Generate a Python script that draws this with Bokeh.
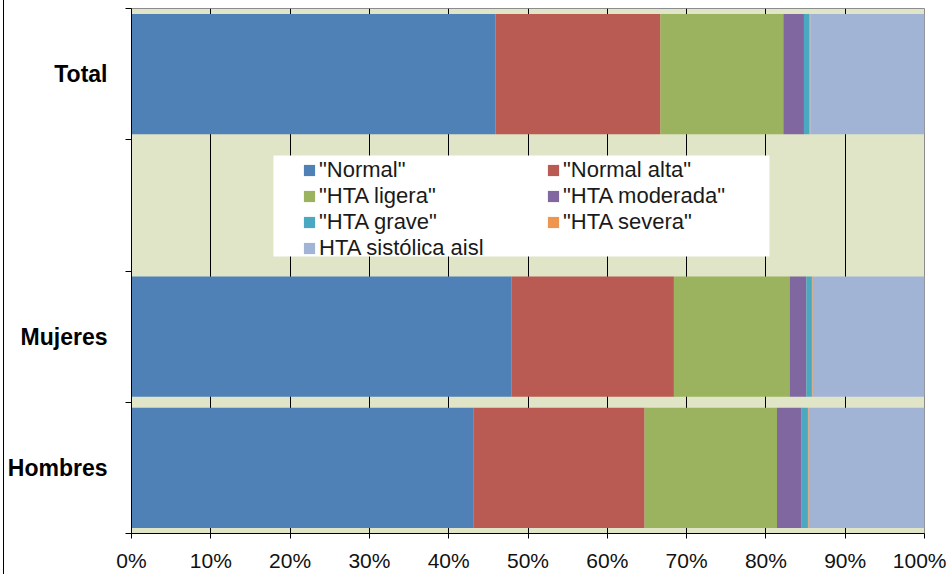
from bokeh.plotting import figure
from bokeh.models import (FixedTicker, Legend, LegendItem, ColumnDataSource,
                          Range1d, BoxAnnotation)
from bokeh.embed import file_html
from bokeh.resources import INLINE

# ---- data (bottom to top) ----
categories = ["Hombres", "Mujeres", "", "Total"]
series_names = ['"Normal"', '"Normal alta"', '"HTA ligera"', '"HTA moderada"',
                '"HTA grave"', '"HTA severa"', 'HTA sistólica aisl']
normal = [43.1, 47.9, 0.0, 45.9]
normal_alta = [21.6, 20.5, 0.0, 20.8]
hta_ligera = [16.7, 14.6, 0.0, 15.5]
hta_moderada = [3.1, 2.1, 0.0, 2.6]
hta_grave = [0.8, 0.7, 0.0, 0.7]
hta_severa = [0.1, 0.1, 0.0, 0.1]
hta_sistolica = [14.6, 14.1, 0.0, 14.4]
x_ticks = [0, 10, 20, 30, 40, 50, 60, 70, 80, 90, 100]
x_tick_labels = ["0%", "10%", "20%", "30%", "40%", "50%", "60%", "70%", "80%", "90%", "100%"]

colors = ["#4F81B7", "#B95B52", "#9BB25E", "#8067A0", "#4BA8C1", "#EE9550", "#A2B4D5"]
keys = ["normal", "normal_alta", "hta_ligera", "hta_moderada", "hta_grave", "hta_severa", "hta_sistolica"]

ypos = [i + 0.5 for i in range(len(categories))]
source = ColumnDataSource(dict(
    y=ypos, normal=normal, normal_alta=normal_alta, hta_ligera=hta_ligera,
    hta_moderada=hta_moderada, hta_grave=hta_grave, hta_severa=hta_severa,
    hta_sistolica=hta_sistolica))

p = figure(width=946, height=574, output_backend="svg", toolbar_location=None,
           x_range=Range1d(0, 100), y_range=Range1d(0, len(categories)),
           min_border_left=131, min_border_right=22, min_border_top=8,
           min_border_bottom=41)

renderers = p.hbar_stack(keys, y="y", height=0.915, color=colors, source=source,
                         line_color=None)

p.background_fill_color = "#DFE5C6"
p.border_fill_alpha = 0
# thin frame line at the left edge of the chart area, white elsewhere
p.styles = {"background": "linear-gradient(to right, white 3px, black 3px, black 4px, white 4px)"}
p.outline_line_color = "#8C8C8C"
p.outline_line_width = 1

# grid
p.ygrid.visible = False
p.xgrid.ticker = FixedTicker(ticks=x_ticks)
p.xgrid.grid_line_color = "black"
p.xgrid.grid_line_width = 1

# x axis
p.xaxis.ticker = FixedTicker(ticks=x_ticks)
p.xaxis.major_label_overrides = {t: l for t, l in zip(x_ticks, x_tick_labels)}
p.xaxis.major_tick_out = 5
p.xaxis.major_tick_in = 0
p.xaxis.minor_tick_line_color = None
p.xaxis.axis_line_color = "black"
p.xaxis.major_tick_line_color = "black"
p.xaxis.major_label_text_font = "Liberation Sans"
p.xaxis.major_label_text_font_size = "21px"
p.xaxis.major_label_text_color = "#111111"
p.xaxis.major_label_standoff = 10

# y axis: labels at band centres, ticks at band edges
p.yaxis.ticker = FixedTicker(ticks=ypos, minor_ticks=list(range(len(categories) + 1)))
p.yaxis.major_label_overrides = {y: c for y, c in zip(ypos, categories)}
p.yaxis.major_tick_out = 0
p.yaxis.major_tick_in = 0
p.yaxis.minor_tick_out = 6
p.yaxis.minor_tick_in = 0
p.yaxis.minor_tick_line_color = "black"
p.yaxis.axis_line_color = "black"
p.yaxis.major_label_text_font = "Liberation Sans"
p.yaxis.major_label_text_font_style = "bold"
p.yaxis.major_label_text_font_size = "23px"
p.yaxis.major_label_text_color = "black"
p.yaxis.major_label_standoff = 18

# legend box (white) over the empty category
p.add_layout(BoxAnnotation(left=17.9, right=80.45, bottom=2.11, top=2.88,
                           fill_color="white", fill_alpha=1.0, line_color=None))

order = [0, 2, 4, 6, 1, 3, 5]  # column-major fill: left column then right column
items = [LegendItem(label=series_names[i], renderers=[renderers[i]]) for i in order]
legend = Legend(items=items, location=(171, 272), orientation="vertical",
                nrows=4, ncols=2,
                background_fill_alpha=0, border_line_color=None,
                padding=0, margin=0, spacing=0,
                glyph_width=14, glyph_height=14, label_standoff=3,
                label_width=227, label_height=22,
                label_text_font="Liberation Sans", label_text_font_size="22px",
                label_text_color="#1a1a1a")
p.add_layout(legend)

open("out.html", "w").write(file_html(p, INLINE))
